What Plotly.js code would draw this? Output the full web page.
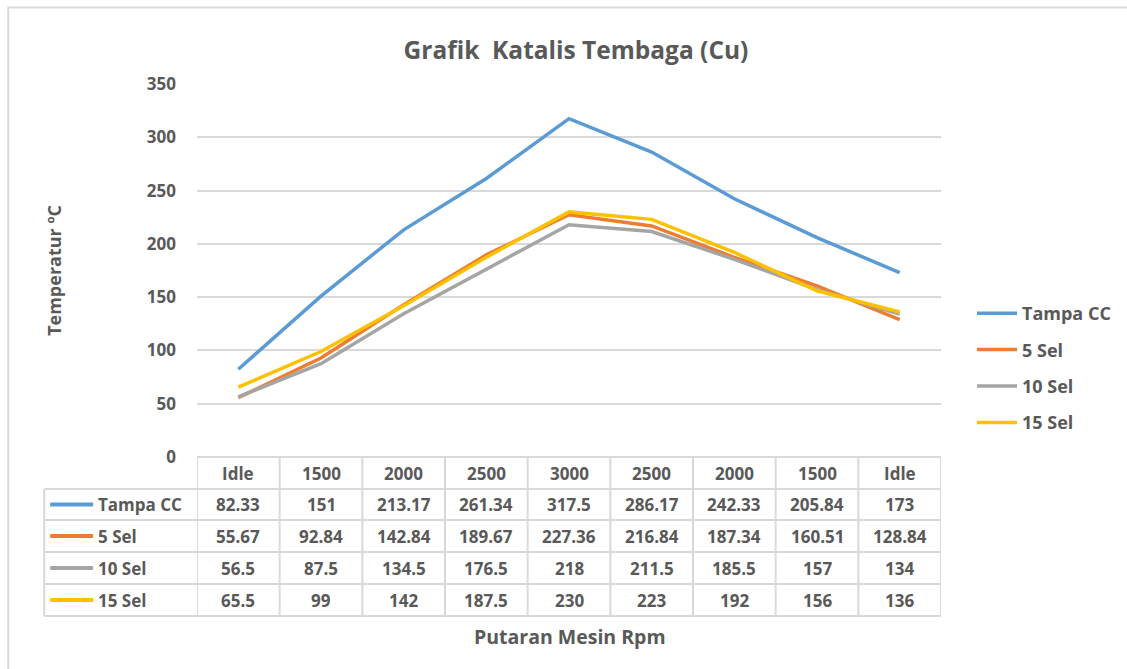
<!DOCTYPE html>
<html>
<head>
<meta charset="utf-8">
<script src="https://cdn.plot.ly/plotly-3.0.1.min.js"></script>
<style>
  html, body { margin: 0; padding: 0; background: #ffffff; }
  #chart { width: 1127px; height: 669px; }
</style>
</head>
<body>
<div id="chart"></div>
<script>
// ---- data ----
const categories = ['Idle', '1500', '2000', '2500', '3000', '2500', '2000', '1500', 'Idle'];
const seriesNames = ['Tampa CC', '5 Sel', '10 Sel', '15 Sel'];
const tampaCC = [82.33, 151, 213.17, 261.34, 317.5, 286.17, 242.33, 205.84, 173];
const sel5 = [55.67, 92.84, 142.84, 189.67, 227.36, 216.84, 187.34, 160.51, 128.84];
const sel10 = [56.5, 87.5, 134.5, 176.5, 218, 211.5, 185.5, 157, 134];
const sel15 = [65.5, 99, 142, 187.5, 230, 223, 192, 156, 136];
const yTicks = [0, 50, 100, 150, 200, 250, 300, 350];

const seriesValues = [tampaCC, sel5, sel10, sel15];
const colors = ['#5B9BD5', '#ED7D31', '#A5A5A5', '#FFC000'];

// ---- layout geometry ----
const W = 1127, H = 669;
const mL = 197, mR = W - 942, mT = 84, mB = H - 457;
const plotW = W - mL - mR, plotH = H - mT - mB;
const px2paperX = px => (px - mL) / plotW;
const py2paperY = py => (H - mB - py) / plotH;

const FONT = '"Open Sans", "Noto Sans", sans-serif';
const TXT = '#595959';
const GRID = '#d9d9d9';

const xIdx = categories.map((c, i) => i);

const traces = seriesValues.map((vals, k) => ({
  type: 'scatter',
  mode: 'lines',
  x: xIdx,
  y: vals,
  name: seriesNames[k],
  legendgroup: 'g' + k,
  line: { color: colors[k], width: 3.5 },
  hoverinfo: 'x+y+name'
}));

// ---- data table below the plot ----
const rowLines = [457, 489, 520, 552, 584, 616]; // pixel y of table row borders
const tableLeft = 44;
const shapes = [];
const annotations = [];

// outer chart border (only left/top visible)
shapes.push({ type: 'rect', xref: 'paper', yref: 'paper',
  x0: px2paperX(8), x1: px2paperX(1140), y0: py2paperY(690), y1: py2paperY(7.5),
  line: { color: GRID, width: 2 }, fillcolor: 'rgba(0,0,0,0)', layer: 'below' });

// horizontal lines
rowLines.forEach((py, r) => {
  if (r === 0) return;
  shapes.push({ type: 'line', xref: 'paper', yref: 'paper',
    x0: px2paperX(tableLeft), x1: 1, y0: py2paperY(py), y1: py2paperY(py),
    line: { color: GRID, width: 2 } });
});
// vertical lines at category boundaries
for (let i = 0; i <= categories.length; i++) {
  shapes.push({ type: 'line', xref: 'x', yref: 'paper',
    x0: i - 0.5, x1: i - 0.5, y0: py2paperY(rowLines[0]), y1: py2paperY(rowLines[rowLines.length - 1]),
    line: { color: GRID, width: 2 } });
}
// left edge of row label column
shapes.push({ type: 'line', xref: 'paper', yref: 'paper',
  x0: px2paperX(tableLeft), x1: px2paperX(tableLeft),
  y0: py2paperY(rowLines[1]), y1: py2paperY(rowLines[rowLines.length - 1]),
  line: { color: GRID, width: 2 } });

const cellFont = { family: FONT, size: 17, color: TXT, weight: 'bold' };
// header row
categories.forEach((c, i) => {
  annotations.push({ xref: 'x', yref: 'paper', x: i,
    y: py2paperY((rowLines[0] + rowLines[1]) / 2), text: c, showarrow: false,
    xanchor: 'center', yanchor: 'middle', font: cellFont });
});
// value rows
seriesValues.forEach((vals, k) => {
  const cy = py2paperY((rowLines[k + 1] + rowLines[k + 2]) / 2);
  vals.forEach((v, i) => {
    annotations.push({ xref: 'x', yref: 'paper', x: i, y: cy, text: String(v),
      showarrow: false, xanchor: 'center', yanchor: 'middle', font: cellFont });
  });
  // legend key in row label
  shapes.push({ type: 'line', xref: 'paper', yref: 'paper',
    x0: px2paperX(50), x1: px2paperX(93), y0: cy, y1: cy,
    line: { color: colors[k], width: 4 } });
  annotations.push({ xref: 'paper', yref: 'paper', x: px2paperX(96), y: cy,
    text: seriesNames[k], showarrow: false, xanchor: 'left', yanchor: 'middle',
    font: cellFont });
});

// x axis title
annotations.push({ xref: 'paper', yref: 'paper', x: px2paperX(571), y: py2paperY(636),
  text: 'Putaran Mesin Rpm', showarrow: false, xanchor: 'center', yanchor: 'middle',
  font: { family: FONT, size: 19.5, color: TXT, weight: 'bold' } });

const layout = {
  width: W, height: H,
  margin: { l: mL, r: mR, t: mT, b: mB, pad: 0 },
  paper_bgcolor: '#ffffff', plot_bgcolor: '#ffffff',
  font: { family: FONT, color: TXT },
  title: {
    text: 'Grafik&nbsp;&nbsp;Katalis Tembaga (Cu)',
    font: { family: FONT, size: 24.5, color: TXT, weight: 'bold' },
    x: 576 / W, xanchor: 'center',
    y: 1 - 50 / H, yanchor: 'middle'
  },
  xaxis: {
    range: [-0.5, categories.length - 0.5],
    showticklabels: false, showgrid: false, zeroline: false,
    showline: false, ticks: '', fixedrange: true
  },
  yaxis: {
    range: [0, 350], tickvals: yTicks, ticktext: yTicks.map(String),
    showgrid: true, gridcolor: GRID, gridwidth: 1.5, zeroline: true, zerolinecolor: GRID, zerolinewidth: 2,
    showline: false, ticks: '', ticklabelstandoff: 20,
    tickfont: { family: FONT, size: 17, color: TXT, weight: 'bold' },
    title: { text: 'Temperatur ºC', standoff: 80,
      font: { family: FONT, size: 18, color: TXT, weight: 'bold' } },
    fixedrange: true
  },
  showlegend: true,
  legend: {
    x: px2paperX(972), xanchor: 'left',
    y: py2paperY(295), yanchor: 'top',
    font: { family: FONT, size: 18, color: TXT, weight: 'bold' },
    bgcolor: 'rgba(0,0,0,0)', borderwidth: 0,
    traceorder: 'grouped', tracegroupgap: 10, itemwidth: 40
  },
  shapes: shapes,
  annotations: annotations
};

Plotly.newPlot('chart', traces, layout, { displayModeBar: false, staticPlot: false });
</script>
</body>
</html>
